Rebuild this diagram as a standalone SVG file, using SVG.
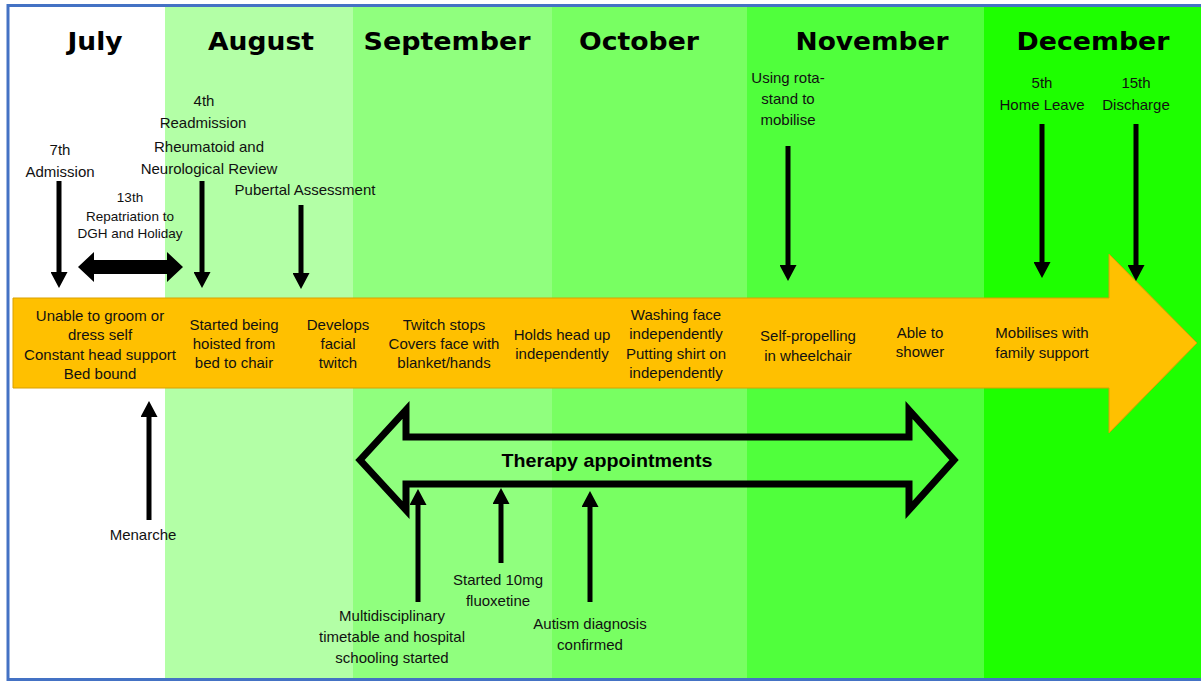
<svg xmlns="http://www.w3.org/2000/svg" width="1201" height="681" viewBox="0 0 1201 681">
<style>
.month{font-family:"DejaVu Sans",Verdana,sans-serif;font-weight:bold;font-size:24px;fill:#000;text-anchor:middle}
.lbl{font-family:"Liberation Sans",Arial,sans-serif;font-size:15px;fill:#111;text-anchor:middle}
.sm{font-family:"Liberation Sans",Arial,sans-serif;font-size:13.5px;fill:#111;text-anchor:middle}
.ttl{font-family:"Liberation Sans",Arial,sans-serif;font-size:19px;font-weight:bold;fill:#000;text-anchor:middle}
.arr{stroke:#000;stroke-width:5;fill:none}
</style>
<defs>
<marker id="ah" viewBox="0 0 16 17" refX="1" refY="8.5" markerWidth="16" markerHeight="17" markerUnits="userSpaceOnUse" orient="auto">
<path d="M0,0 L16,8.5 L0,17 z" fill="#000"/>
</marker>
</defs>
<g id="background">
<rect x="0" y="0" width="1201" height="681" fill="#ffffff"/>
<rect x="165" y="5" width="188" height="676" fill="#B3FFA6"/>
<rect x="353" y="5" width="199" height="676" fill="#90FF7E"/>
<rect x="552" y="5" width="195" height="676" fill="#78FF62"/>
<rect x="747" y="5" width="237" height="676" fill="#50FF3C"/>
<rect x="984" y="5" width="217" height="676" fill="#1EFF00"/>
<rect x="8" y="5.5" width="1200" height="674" fill="none" stroke="#4472C4" stroke-width="3"/>
</g>
<g id="months">
<text class="month" x="95" y="50" textLength="55" lengthAdjust="spacingAndGlyphs">July</text>
<text class="month" x="261" y="50" textLength="106" lengthAdjust="spacingAndGlyphs">August</text>
<text class="month" x="447" y="50" textLength="167" lengthAdjust="spacingAndGlyphs">September</text>
<text class="month" x="639" y="50" textLength="120" lengthAdjust="spacingAndGlyphs">October</text>
<text class="month" x="872" y="50" textLength="153" lengthAdjust="spacingAndGlyphs">November</text>
<text class="month" x="1093" y="50" textLength="153" lengthAdjust="spacingAndGlyphs">December</text>
</g>
<g id="timeline">
<path d="M13,298 L1109,298 L1109,254 L1197,343 L1109,433 L1109,388 L13,388 z" fill="#FFC000" stroke="#D9A000" stroke-width="1"/>
</g>
<g id="stage1">
<text class="lbl" x="100" y="321">Unable to groom or</text>
<text class="lbl" x="100" y="340">dress self</text>
<text class="lbl" x="100" y="360">Constant head support</text>
<text class="lbl" x="100" y="379">Bed bound</text>
</g>
<g id="stage2">
<text class="lbl" x="234" y="330">Started being</text>
<text class="lbl" x="234" y="349">hoisted from</text>
<text class="lbl" x="234" y="368">bed to chair</text>
</g>
<g id="stage3">
<text class="lbl" x="338" y="330">Develops</text>
<text class="lbl" x="338" y="349">facial</text>
<text class="lbl" x="338" y="368">twitch</text>
</g>
<g id="stage4">
<text class="lbl" x="444" y="330">Twitch stops</text>
<text class="lbl" x="444" y="349">Covers face with</text>
<text class="lbl" x="444" y="368">blanket/hands</text>
</g>
<g id="stage5">
<text class="lbl" x="562" y="340">Holds head up</text>
<text class="lbl" x="562" y="359">independently</text>
</g>
<g id="stage6">
<text class="lbl" x="676" y="320">Washing face</text>
<text class="lbl" x="676" y="339">independently</text>
<text class="lbl" x="676" y="359">Putting shirt on</text>
<text class="lbl" x="676" y="378">independently</text>
</g>
<g id="stage7">
<text class="lbl" x="808" y="341">Self-propelling</text>
<text class="lbl" x="808" y="361">in wheelchair</text>
</g>
<g id="stage8">
<text class="lbl" x="920" y="338">Able to</text>
<text class="lbl" x="920" y="357">shower</text>
</g>
<g id="stage9">
<text class="lbl" x="1042" y="338">Mobilises with</text>
<text class="lbl" x="1042" y="358">family support</text>
</g>
<g id="ev-admission">
<text class="lbl" x="60" y="155">7th</text>
<text class="lbl" x="60" y="177">Admission</text>
</g>
<g id="ev-repatriation">
<text class="sm" x="130" y="202">13th</text>
<text class="sm" x="130" y="221">Repatriation to</text>
<text class="sm" x="130" y="238">DGH and Holiday</text>
</g>
<g id="ev-readmission">
<text class="lbl" x="204" y="106">4th</text>
<text class="lbl" x="203" y="128">Readmission</text>
<text class="lbl" x="209" y="152">Rheumatoid and</text>
<text class="lbl" x="209" y="174">Neurological Review</text>
</g>
<g id="ev-pubertal">
<text class="lbl" x="305" y="195">Pubertal Assessment</text>
</g>
<g id="ev-rotastand">
<text class="lbl" x="788" y="83">Using rota-</text>
<text class="lbl" x="788" y="104">stand to</text>
<text class="lbl" x="788" y="125">mobilise</text>
</g>
<g id="ev-homeleave">
<text class="lbl" x="1042" y="88">5th</text>
<text class="lbl" x="1042" y="110">Home Leave</text>
</g>
<g id="ev-discharge">
<text class="lbl" x="1136" y="88">15th</text>
<text class="lbl" x="1136" y="110">Discharge</text>
</g>
<g id="ev-menarche">
<text class="lbl" x="143" y="540">Menarche</text>
</g>
<g id="therapy">
<path d="M360,460 L406,410 L406,437 L909,437 L909,410 L954,460 L909,510 L909,484 L406,484 L406,510 z" fill="none" stroke="#000" stroke-width="7" stroke-linejoin="miter"/>
<text class="ttl" x="607" y="467" textLength="211" lengthAdjust="spacingAndGlyphs">Therapy appointments</text>
</g>
<g id="ev-mdt">
<text class="lbl" x="392" y="621">Multidisciplinary</text>
<text class="lbl" x="392" y="642">timetable and hospital</text>
<text class="lbl" x="392" y="663">schooling started</text>
</g>
<g id="ev-fluoxetine">
<text class="lbl" x="498" y="585">Started 10mg</text>
<text class="lbl" x="498" y="606">fluoxetine</text>
</g>
<g id="ev-autism">
<text class="lbl" x="590" y="629">Autism diagnosis</text>
<text class="lbl" x="590" y="650">confirmed</text>
</g>
<g id="connectors">
<line class="arr" x1="59" y1="181" x2="59" y2="273" marker-end="url(#ah)"/>
<path d="M78,267 L94,252 L94,260 L167,260 L167,252 L183,267 L167,282 L167,274 L94,274 L94,282 z" fill="#000"/>
<line class="arr" x1="202" y1="181" x2="202" y2="273" marker-end="url(#ah)"/>
<line class="arr" x1="301" y1="205" x2="301" y2="274" marker-end="url(#ah)"/>
<line class="arr" x1="788" y1="146" x2="788" y2="266" marker-end="url(#ah)"/>
<line class="arr" x1="1042" y1="124" x2="1042" y2="263" marker-end="url(#ah)"/>
<line class="arr" x1="1136" y1="124" x2="1136" y2="266" marker-end="url(#ah)"/>
<line class="arr" x1="149" y1="520" x2="149" y2="416" marker-end="url(#ah)"/>
<line class="arr" x1="418" y1="602" x2="418" y2="504" marker-end="url(#ah)"/>
<line class="arr" x1="501" y1="563" x2="501" y2="503" marker-end="url(#ah)"/>
<line class="arr" x1="590" y1="602" x2="590" y2="506" marker-end="url(#ah)"/>
</g>
</svg>
